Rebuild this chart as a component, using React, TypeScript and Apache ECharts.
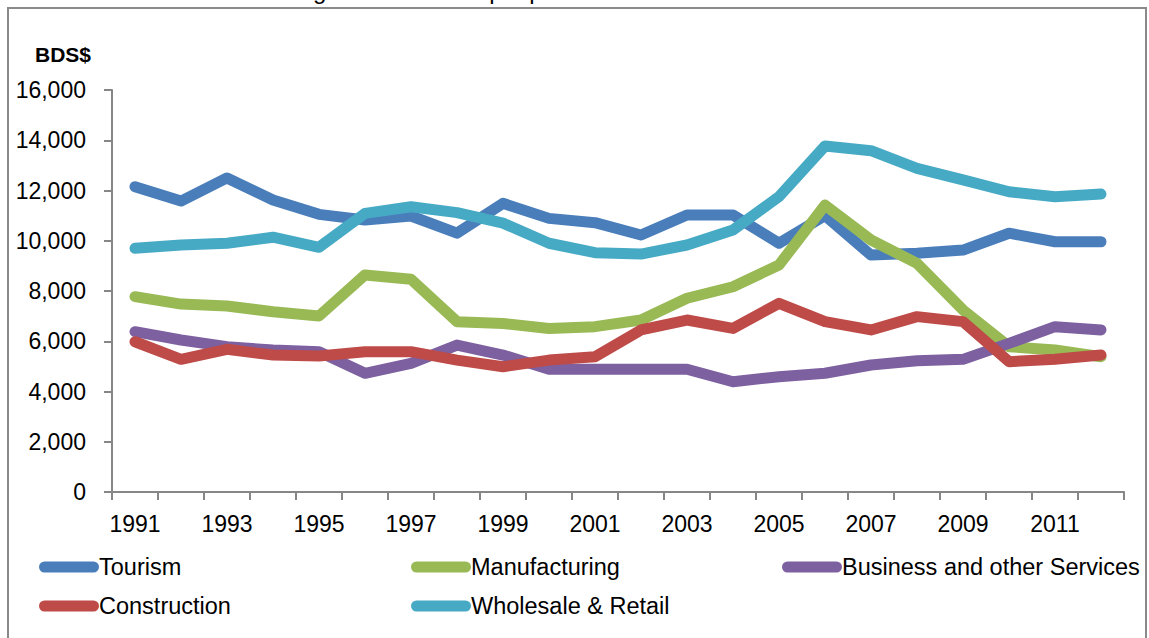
import React, { useEffect, useRef } from "react";
import * as echarts from "echarts";

const years = ["1991","1992","1993","1994","1995","1996","1997","1998","1999","2000","2001","2002","2003","2004","2005","2006","2007","2008","2009","2010","2011","2012"];

const tourism = [12150, 11580, 12500, 11620, 11050, 10825, 10985, 10300, 11490, 10890, 10720, 10230, 11025, 11025, 9900, 11000, 9430, 9500, 9630, 10300, 9960, 9960];
const manufacturing = [7775, 7480, 7400, 7175, 7005, 8640, 8465, 6780, 6710, 6510, 6580, 6845, 7710, 8170, 9035, 11420, 10030, 9100, 7245, 5785, 5650, 5385];
const business = [6380, 6050, 5785, 5650, 5585, 4725, 5120, 5850, 5450, 4885, 4885, 4885, 4885, 4390, 4590, 4725, 5055, 5225, 5280, 5915, 6580, 6450];
const construction = [5980, 5280, 5680, 5450, 5410, 5585, 5585, 5250, 4985, 5250, 5385, 6450, 6845, 6510, 7510, 6780, 6450, 6980, 6780, 5185, 5280, 5450];
const wholesale = [9700, 9830, 9900, 10140, 9740, 11090, 11355, 11120, 10700, 9900, 9525, 9470, 9830, 10430, 11755, 13770, 13585, 12880, 12420, 11950, 11750, 11860];

const seriesNames = ["Tourism", "Manufacturing", "Business and other Services", "Construction", "Wholesale & Retail"];
const seriesData = [tourism, manufacturing, business, construction, wholesale];
const seriesColors = ["#4A7EBB", "#98B954", "#7D60A0", "#BE4B48", "#46AAC5"];

const yTicks = { min: 0, max: 16000, interval: 2000 };
const unitLabel = "BDS$";
const captionText = "Figure 4: Real Output per Worker in Selected Sectors";

const FONT = "'Liberation Sans', Arial, sans-serif";
const pill = "path://M5.5,0 L54.5,0 A5.5,5.5 0 0 1 54.5,11 L5.5,11 A5.5,5.5 0 0 1 5.5,0 Z";

export default function App() {
  const ref = useRef<HTMLDivElement>(null);
  useEffect(() => {
    if (!ref.current) return;
    const chart = echarts.init(ref.current, null, { renderer: "svg" });
    const legendCommon = {
      orient: "vertical" as const,
      top: 550,
      itemWidth: 60,
      itemHeight: 11,
      itemGap: 15,
      icon: pill,
      textStyle: { fontFamily: FONT, fontSize: 23.5, color: "#000", lineHeight: 24, padding: [0, 0, 0, -5] },
      selectedMode: false,
    };
    chart.setOption({
      animation: false,
      backgroundColor: "#fff",
      textStyle: { fontFamily: FONT },
      grid: { left: 112, top: 90, right: 25, bottom: 146, containLabel: false },
      legend: [
        { ...legendCommon, left: 34, data: ["Tourism", "Construction"] },
        { ...legendCommon, left: 406, data: ["Manufacturing", "Wholesale & Retail"] },
        { ...legendCommon, left: 777, data: ["Business and other Services"] },
      ],
      graphic: [
        {
          type: "rect",
          shape: { x: 8, y: 8, width: 1138, height: 700 },
          style: { fill: "none", stroke: "#8a8a8a", lineWidth: 2 },
          silent: true,
        },
        {
          type: "text",
          x: 577,
          y: -22,
          style: { text: captionText, fontFamily: FONT, fontSize: 24, fill: "#000", align: "center", verticalAlign: "top" },
          silent: true,
        },
        {
          type: "text",
          x: 35,
          y: 44,
          style: { text: unitLabel, fontFamily: FONT, fontSize: 21, fontWeight: "bold", fill: "#000" },
          silent: true,
        },
      ],
      xAxis: {
        type: "category",
        data: years,
        boundaryGap: true,
        axisLine: { show: true, lineStyle: { color: "#868686", width: 2 } },
        axisTick: { show: true, interval: 0, length: 8, lineStyle: { color: "#868686", width: 2 } },
        axisLabel: { interval: 1, fontSize: 23, color: "#000", fontFamily: FONT, margin: 20 },
        splitLine: { show: false },
      },
      yAxis: {
        type: "value",
        min: yTicks.min,
        max: yTicks.max,
        interval: yTicks.interval,
        axisLine: { show: true, lineStyle: { color: "#868686", width: 2 } },
        axisTick: { show: true, length: 8, lineStyle: { color: "#868686", width: 2 } },
        axisLabel: {
          fontSize: 23,
          color: "#000",
          fontFamily: FONT,
          margin: 26,
          formatter: (v: number) => v.toLocaleString("en-US"),
        },
        splitLine: { show: false },
      },
      series: seriesNames.map((name, i) => ({
        name,
        type: "line",
        data: seriesData[i],
        showSymbol: false,
        symbol: "none",
        color: seriesColors[i],
        lineStyle: { width: 11, color: seriesColors[i], cap: "round", join: "round" },
        z: 2 + i,
      })),
    });
    return () => chart.dispose();
  }, []);
  return <div ref={ref} style={{ position: "absolute", left: 0, top: 0, width: 1149, height: 638 }} />;
}
